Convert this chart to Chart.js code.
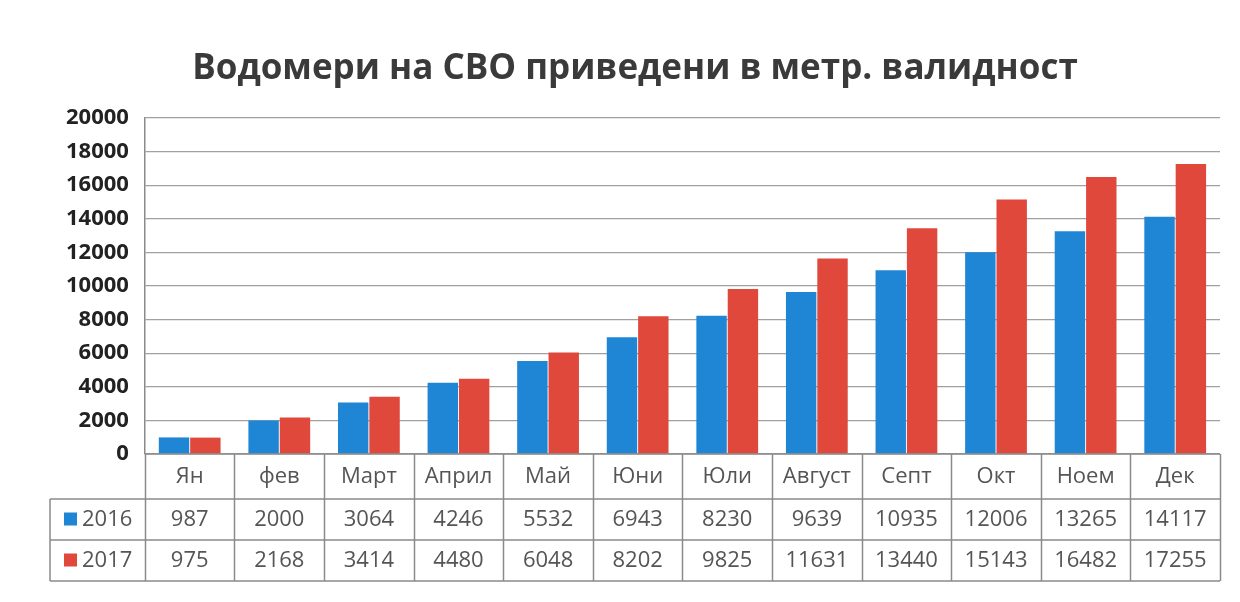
<!DOCTYPE html>
<html>
<head>
<meta charset="utf-8">
<script src="https://cdn.jsdelivr.net/npm/chart.js@4.4.1/dist/chart.umd.min.js"></script>
<style>
html,body{margin:0;padding:0;background:#fff;}
#wrap{width:1240px;height:602px;position:relative;}
</style>
</head>
<body>
<div id="wrap"><canvas id="c" width="1240" height="602"></canvas></div>
<script>
const categories = ['Ян','фев','Март','Април','Май','Юни','Юли','Август','Септ','Окт','Ноем','Дек'];
const series2016 = [987,2000,3064,4246,5532,6943,8230,9639,10935,12006,13265,14117];
const series2017 = [975,2168,3414,4480,6048,8202,9825,11631,13440,15143,16482,17255];
const seriesNames = ['2016','2017'];
const yTicks = [0,2000,4000,6000,8000,10000,12000,14000,16000,18000,20000];
const titleText = 'Водомери на СВО приведени в метр. валидност';

const colors = ['#1f86d6','#e0483c'];
const FONT = '"Open Sans", "Liberation Sans", sans-serif';

const tablePlugin = {
  id: 'dataTable',
  afterDraw(chart) {
    const ctx = chart.ctx;
    const a = chart.chartArea;
    const xs = chart.scales.x;
    const cw = xs.getPixelForValue(1) - xs.getPixelForValue(0);
    const left = a.left, right = a.right;
    const y0 = a.bottom, y1 = y0 + 45, y2 = y1 + 41, y3 = y2 + 41;
    const legL = 50;
    ctx.save();
    ctx.strokeStyle = '#8a8a8a';
    ctx.lineWidth = 1.5;
    ctx.beginPath();
    ctx.moveTo(left, y0); ctx.lineTo(right, y0);
    ctx.moveTo(legL, y1); ctx.lineTo(right, y1);
    ctx.moveTo(legL, y2); ctx.lineTo(right, y2);
    ctx.moveTo(legL, y3); ctx.lineTo(right, y3);
    for (let i = 0; i <= categories.length; i++) {
      const x = Math.round(xs.getPixelForValue(0) - cw/2 + i*cw) + 0.5;
      ctx.moveTo(x, y0); ctx.lineTo(x, y3);
    }
    ctx.moveTo(legL, y1); ctx.lineTo(legL, y3);
    ctx.stroke();

    ctx.fillStyle = '#555';
    ctx.font = '22px ' + FONT;
    ctx.textAlign = 'center';
    ctx.textBaseline = 'middle';
    categories.forEach((c, i) => {
      const x = xs.getPixelForValue(i);
      ctx.fillText(c, x, (y0 + y1)/2);
      ctx.fillText(String(series2016[i]), x, (y1 + y2)/2);
      ctx.fillText(String(series2017[i]), x, (y2 + y3)/2);
    });
    const rows = [[y1,y2],[y2,y3]];
    rows.forEach((r, k) => {
      const cy = (r[0] + r[1])/2;
      ctx.fillStyle = colors[k];
      ctx.fillRect(legL + 14, cy - 7, 13, 13);
      ctx.fillStyle = '#555';
      ctx.textAlign = 'left';
      ctx.fillText(seriesNames[k], legL + 32, cy);
    });
    ctx.restore();
  }
};

new Chart(document.getElementById('c'), {
  type: 'bar',
  data: {
    labels: categories,
    datasets: [
      { label: seriesNames[0], data: series2016, backgroundColor: colors[0], borderWidth: 0 },
      { label: seriesNames[1], data: series2017, backgroundColor: colors[1], borderWidth: 0 }
    ]
  },
  options: {
    responsive: false,
    animation: false,
    layout: { padding: { left: 50, right: 20, top: 0, bottom: 140 } },
    datasets: { bar: { categoryPercentage: 0.7, barPercentage: 0.97 } },
    plugins: {
      legend: { display: false },
      tooltip: { enabled: false },
      title: {
        display: true,
        text: titleText,
        color: '#3a3a3a',
        font: { family: FONT, size: 35, weight: 'bold' },
        padding: { top: 48, bottom: 28 }
      }
    },
    scales: {
      x: {
        grid: { display: false },
        border: { display: false },
        ticks: { display: false }
      },
      y: {
        min: 0, max: 20000,
        afterBuildTicks(axis) { axis.ticks = yTicks.map(v => ({ value: v })); },
        grid: { color: '#a0a0a0', lineWidth: 1.2, drawTicks: false },
        border: { display: true, color: '#8a8a8a', width: 1.5 },
        ticks: {
          color: '#222',
          padding: 16,
          font: { family: FONT, size: 22, weight: 'bold' },
          callback: (v) => String(v)
        }
      }
    }
  },
  plugins: [tablePlugin]
});
</script>
</body>
</html>
